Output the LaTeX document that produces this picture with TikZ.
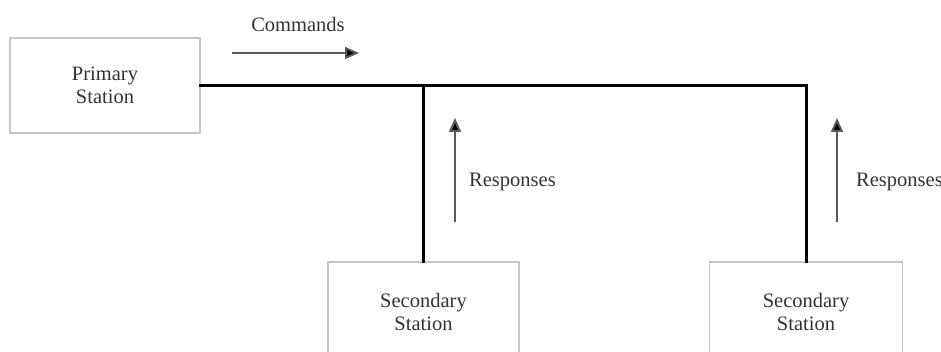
\documentclass[tikz,border=0pt]{standalone}
\usepackage{fontspec}
\setmainfont{Liberation Serif}
\usetikzlibrary{arrows.meta}
\begin{document}
\begin{tikzpicture}[x=1pt,y=-1pt,
  station/.style={draw=black!22,line width=1.4pt,fill=white,align=center,
    text=black!80,font=\fontsize{20.5}{23}\selectfont,inner sep=0pt},
  bus/.style={line width=3pt,line cap=rect},
  flow/.style={draw=black!65,line width=2pt,
    -{Triangle[length=14pt,width=12pt,fill=black]}},
  lbl/.style={text=black!80,font=\fontsize{20.5}{23}\selectfont,inner sep=0pt}]
  \useasboundingbox (0,0) rectangle (941,352);
  \clip (0,0) rectangle (941,352);
  % stations
  \node[station,minimum width=190pt,minimum height=95pt] (primary) at (105,85.5) {Primary\\Station};
  \node[station,minimum width=191pt,minimum height=100pt] (sec1) at (423.5,312) {Secondary\\Station};
  \node[station,minimum width=193pt,minimum height=100pt] (sec2) at (806,312) {Secondary\\Station};
  % shared line
  \draw[bus] (primary.east) -- (sec2.north |- primary.east) -- (sec2.north);
  \draw[bus] (sec1.north |- primary.east) -- (sec1.north);
  % direction of traffic
  \coordinate (cmdA) at (232,53);
  \coordinate (cmdB) at (359,53);
  \draw[flow] (cmdA) -- (cmdB);
  \node[lbl] (cmd) at (298,24) {Commands};
  \coordinate (r1A) at (455,222);
  \coordinate (r1B) at (455,118);
  \draw[flow] (r1A) -- (r1B);
  \node[lbl,anchor=west] (resp1) at (469,182) {Responses};
  \coordinate (r2A) at (837,222);
  \coordinate (r2B) at (837,118);
  \draw[flow] (r2A) -- (r2B);
  \node[lbl,anchor=west] (resp2) at (856,182) {Responses};
\end{tikzpicture}
\end{document}
